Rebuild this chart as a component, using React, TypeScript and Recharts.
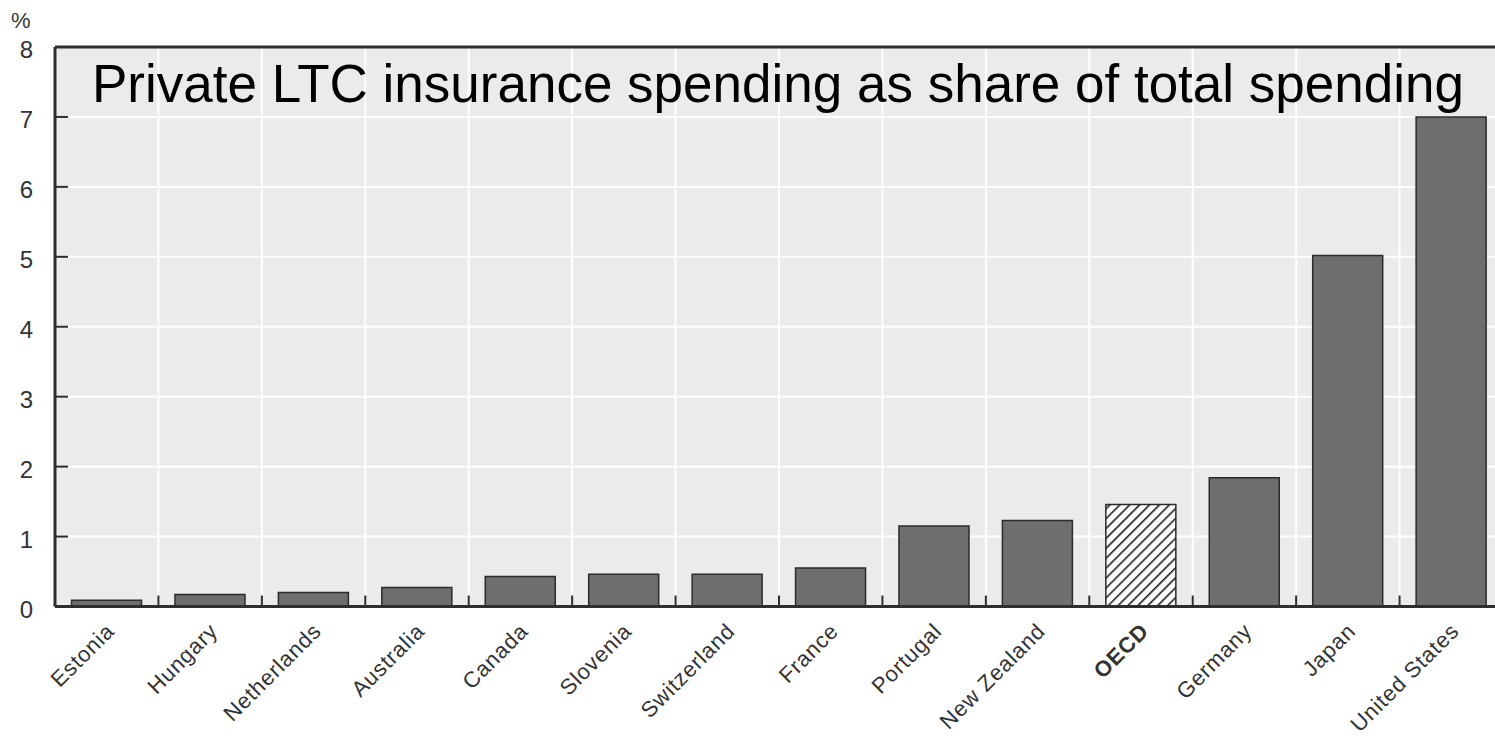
import { BarChart, Bar, Cell, XAxis, YAxis, CartesianGrid, ReferenceLine } from 'recharts'

const countries = [
  'Estonia',
  'Hungary',
  'Netherlands',
  'Australia',
  'Canada',
  'Slovenia',
  'Switzerland',
  'France',
  'Portugal',
  'New Zealand',
  'OECD',
  'Germany',
  'Japan',
  'United States',
]

const shares = [0.09, 0.17, 0.2, 0.27, 0.43, 0.46, 0.46, 0.55, 1.15, 1.23, 1.46, 1.84, 5.02, 7.0]

const yTicks = [0, 1, 2, 3, 4, 5, 6, 7, 8]

const data = countries.map((name, i) => ({ name, value: shares[i] }))

const CHART_W = 1520
const CHART_H = 741
const MARGIN = { top: 47, right: 17, bottom: 0, left: 0 }
const Y_AXIS_W = 55
const PLOT_W = CHART_W - MARGIN.left - MARGIN.right - Y_AXIS_W
const STEP = PLOT_W / countries.length

const AXIS = '#2e2e2e'
const SANS = "'Liberation Sans', Arial, sans-serif"

const YTick = ({ x, y, payload }: any) => (
  <g>
    <line x1={x} y1={y} x2={x + 13} y2={y} stroke={AXIS} strokeWidth={2} />
    <text x={x - 22} y={y} dy={11} textAnchor='end' fontSize={24} fontFamily={SANS} fill='#333'>
      {payload.value}
    </text>
  </g>
)

const XTick = ({ x, y, payload, index }: any) => (
  <g>
    {index > 0 && (
      <line x1={x - STEP / 2} y1={y} x2={x - STEP / 2} y2={y - 11} stroke={AXIS} strokeWidth={2} />
    )}
    <text
      transform={`translate(${x + 9},${y + 26}) rotate(-45)`}
      textAnchor='end'
      fontSize={22}
      letterSpacing={0.8}
      fontFamily={SANS}
      fontWeight={payload.value === 'OECD' ? 'bold' : 'normal'}
      fill='#333'
    >
      {payload.value}
    </text>
  </g>
)

const App = () => {
  return (
    <div
      style={{
        position: 'absolute',
        left: 0,
        top: 0,
        width: 1495,
        height: 741,
        overflow: 'hidden',
        background: '#fff',
      }}
    >
      <div
        style={{
          position: 'absolute',
          left: 11,
          top: 8,
          fontFamily: SANS,
          fontSize: 22,
          color: '#333',
        }}
      >
        %
      </div>
      <BarChart width={CHART_W} height={CHART_H} data={data} margin={MARGIN} barCategoryGap='16%'>
        <defs>
          <pattern id='hatch' width={7} height={7} patternUnits='userSpaceOnUse' patternTransform='rotate(45)'>
            <rect width={7} height={7} fill='#fff' />
            <line x1={0} y1={0} x2={0} y2={7} stroke='#1e1e1e' strokeWidth={3.2} />
          </pattern>
        </defs>
        <CartesianGrid
          fill='#ebebeb'
          stroke='#fff'
          strokeWidth={2}
          verticalCoordinatesGenerator={({ offset }: any) =>
            countries.slice(1).map((_c, i) => offset.left + ((i + 1) * offset.width) / countries.length)
          }
        />
        <XAxis
          dataKey='name'
          interval={0}
          height={CHART_H - 606.5}
          tickLine={false}
          tickSize={0}
          tickMargin={0}
          axisLine={{ stroke: AXIS, strokeWidth: 3 }}
          tick={<XTick />}
        />
        <YAxis
          domain={[0, 8]}
          ticks={yTicks}
          width={Y_AXIS_W}
          tickLine={false}
          tickSize={0}
          tickMargin={0}
          axisLine={{ stroke: AXIS, strokeWidth: 3 }}
          tick={<YTick />}
          interval={0}
        />
        <ReferenceLine y={8} stroke={AXIS} strokeWidth={3} />
        <Bar dataKey='value' fill='#6d6e70' stroke='#2b2b2b' strokeWidth={1.5} isAnimationActive={false}>
          {data.map((d) => (
            <Cell key={d.name} fill={d.name === 'OECD' ? 'url(#hatch)' : '#6d6e70'} />
          ))}
        </Bar>
        <text x={92} y={102} fontSize={53} fontFamily={SANS} fill='#000'>
          Private LTC insurance spending as share of total spending
        </text>
      </BarChart>
    </div>
  )
}

export default App
